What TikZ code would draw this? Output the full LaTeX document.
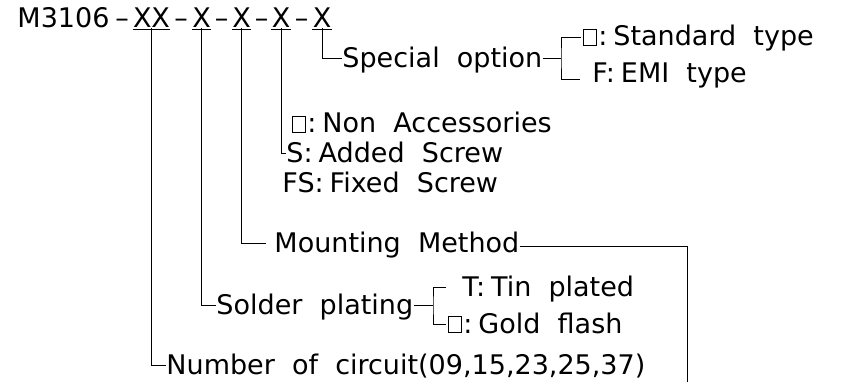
\documentclass[tikz,border=0pt]{standalone}
\usepackage{fontspec}
\setmainfont{DejaVu Sans}[WordSpace=2.0]
\usetikzlibrary{calc}
\newcommand{\partfont}{\fontsize{27pt}{30pt}\selectfont}
\newcommand{\cgap}{\hspace{6pt}}

\begin{document}
\begin{tikzpicture}[x=1pt, y=-1pt, line width=0.9pt,
  txt/.style={inner sep=0pt, font=\partfont, anchor=base west},
  key/.style={inner sep=0pt, font=\partfont, anchor=base},
  lbl/.style={inner sep=0pt, font=\partfont, anchor=west, text height=19pt, text depth=0pt},
  sqbox/.style={draw, inner sep=0pt, minimum width=13pt, minimum height=16pt, anchor=south west}]
  \useasboundingbox (0,0) rectangle (841,382);

  % part number
  \node[txt] (pn) at (17,28) {M3106};
  \node[key] (d1) at (122,28) {–};
  \node[key] (nc) at (151.5,28) {XX};
  \node[key] (d2) at (181,28) {–};
  \node[key] (sp) at (201.5,28) {X};
  \node[key] (d3) at (221.5,28) {–};
  \node[key] (mm) at (241.5,28) {X};
  \node[key] (d4) at (261.5,28) {–};
  \node[key] (ac) at (281,28) {X};
  \node[key] (d5) at (301.5,28) {–};
  \node[key] (so) at (322,28) {X};
  \foreach \n in {nc,sp,mm,ac,so}
    \draw ([yshift=-1.5pt]\n.south west) -- ([yshift=-1.5pt]\n.south east);

  % special option
  \node[lbl] (sol) at (342,58) {Special option};
  \draw (so.south) |- (sol.west);
  \coordinate (soj) at (561,58);
  \draw (sol.east) -- (soj);
  \node[sqbox] (stdbox) at (583,46) {};
  \node[txt] (stdl) at ([xshift=1pt]stdbox.south east) {:\cgap Standard type};
  \node[txt] (emil) at (592,83) {F:\cgap EMI type};
  \coordinate (emij) at (580,79);
  \draw ([xshift=-2pt]stdbox.west) -| (soj) |- (emij);

  % accessories
  \node[sqbox] (nabox) at (292,133) {};
  \node[txt] (nal) at ([xshift=1pt]nabox.south east) {:\cgap Non Accessories};
  \node[lbl] (asl) at (286,153) {S:\cgap Added Screw};
  \node[txt] (fsl) at (282,193) {FS:\cgap Fixed Screw};
  \draw (ac.south) |- (asl.west);

  % mounting
  \node[lbl] (mml) at (274,243) {Mounting Method};
  \draw (mm.south) |- ([xshift=-8pt]mml.west);
  \coordinate (mmend) at (687,382);
  \draw ([yshift=-3pt]mml.east) -| (mmend);

  % solder plating
  \node[lbl] (spl) at (216,305) {Solder plating};
  \draw (sp.south) |- (spl.west);
  \coordinate (splj) at (433,305);
  \draw (spl.east) -- (splj);
  \node[txt] (tinl) at (462,296) {T:\cgap Tin plated};
  \node[sqbox] (gfbox) at (448,333) {};
  \node[txt] (gfl) at ([xshift=1pt]gfbox.south east) {:\cgap Gold flash};
  \coordinate (tinj) at (446,287);
  \draw (tinj) -| (splj) |- ([xshift=-2pt]gfbox.west);

  % number of circuit
  \node[lbl] (ncl) at (166,365) {Number of circuit(09,15,23,25,37)};
  \draw (nc.south) |- (ncl.west);
\end{tikzpicture}
\end{document}
